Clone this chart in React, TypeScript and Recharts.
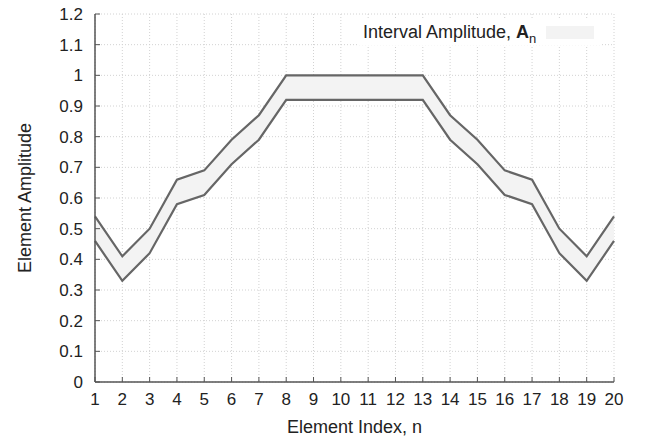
import React from 'react';
import { ComposedChart, Area, Line, XAxis, YAxis, CartesianGrid, Legend } from 'recharts';

const elementIndex = [1, 2, 3, 4, 5, 6, 7, 8, 9, 10, 11, 12, 13, 14, 15, 16, 17, 18, 19, 20];
const upperAmp = [0.54, 0.41, 0.5, 0.66, 0.69, 0.79, 0.87, 1.0, 1.0, 1.0, 1.0, 1.0, 1.0, 0.87, 0.79, 0.69, 0.66, 0.5, 0.41, 0.54];
const lowerAmp = [0.46, 0.33, 0.42, 0.58, 0.61, 0.71, 0.79, 0.92, 0.92, 0.92, 0.92, 0.92, 0.92, 0.79, 0.71, 0.61, 0.58, 0.42, 0.33, 0.46];
const yTicks = [0, 0.1, 0.2, 0.3, 0.4, 0.5, 0.6, 0.7, 0.8, 0.9, 1, 1.1, 1.2];

const data = elementIndex.map((n, i) => ({
  n,
  low: lowerAmp[i],
  high: upperAmp[i],
  range: [lowerAmp[i], upperAmp[i]],
}));

const FONT = 'Liberation Sans, Arial, sans-serif';
const AXIS = '#555';

const LegendContent = () => (
  <div
    style={{
      background: '#fff',
      display: 'flex',
      alignItems: 'center',
      padding: '3px 6px',
      fontFamily: FONT,
      fontSize: 18,
      lineHeight: '20px',
      color: '#222',
    }}
  >
    <span>
      Interval Amplitude, <b>A</b>
      <sub style={{ fontSize: 13, lineHeight: 0 }}>n</sub>
    </span>
    <span style={{ display: 'inline-block', width: 48, height: 13, background: '#f3f3f3', marginLeft: 10 }} />
  </div>
);

export default function App() {
  return (
    <div style={{ position: 'absolute', left: 0, top: 0 }}>
      <ComposedChart
        width={645}
        height={439}
        data={data}
        margin={{ top: 14, right: 31, bottom: 0, left: 0 }}
        style={{ fontFamily: FONT }}
      >
        <CartesianGrid stroke="#d2d2d2" strokeDasharray="1 2" />
        <XAxis
          dataKey="n"
          type="number"
          domain={[1, 20]}
          ticks={elementIndex}
          height={57}
          axisLine={{ stroke: AXIS, strokeWidth: 1.5 }}
          tickLine={{ stroke: AXIS, strokeWidth: 1 }}
          tickSize={-5}
          tickMargin={16}
          tick={{ fill: '#222', fontSize: 17 }}
          label={{ value: 'Element Index, n', position: 'insideBottom', offset: 6, fill: '#222', fontSize: 18 }}
        />
        <XAxis
          xAxisId="top"
          orientation="top"
          dataKey="n"
          type="number"
          domain={[1, 20]}
          ticks={elementIndex}
          height={0}
          axisLine={{ stroke: AXIS, strokeWidth: 1.5 }}
          tickLine={false}
          tick={false}
        />
        <YAxis
          type="number"
          domain={[0, 1.2]}
          ticks={yTicks}
          width={95}
          axisLine={{ stroke: AXIS, strokeWidth: 1.5 }}
          tickLine={{ stroke: AXIS, strokeWidth: 1 }}
          tickSize={-5}
          tickMargin={17}
          tick={{ fill: '#222', fontSize: 17 }}
          tickFormatter={(v: number) => String(Math.round(v * 10) / 10)}
          label={{
            value: 'Element Amplitude',
            angle: -90,
            position: 'insideLeft',
            offset: 25,
            fill: '#222',
            fontSize: 18,
            style: { textAnchor: 'middle' },
          }}
        />
        <YAxis
          yAxisId="right"
          orientation="right"
          type="number"
          domain={[0, 1.2]}
          ticks={yTicks}
          width={0}
          axisLine={{ stroke: AXIS, strokeWidth: 1.5 }}
          tickLine={{ stroke: AXIS, strokeWidth: 1 }}
          tickSize={-5}
          tickFormatter={() => ''}
        />
        <Legend
          layout="horizontal"
          verticalAlign="middle"
          align="center"
          wrapperStyle={{ position: 'absolute', top: 19, left: 357, width: 'auto' }}
          content={() => <LegendContent />}
        />
        <Area
          dataKey="range"
          type="linear"
          fill="#f3f3f3"
          fillOpacity={1}
          stroke="none"
          isAnimationActive={false}
          legendType="none"
        />
        <Line dataKey="high" type="linear" stroke="#666" strokeWidth={2.2} dot={false} isAnimationActive={false} legendType="none" />
        <Line dataKey="low" type="linear" stroke="#666" strokeWidth={2.2} dot={false} isAnimationActive={false} legendType="none" />
      </ComposedChart>
    </div>
  );
}
